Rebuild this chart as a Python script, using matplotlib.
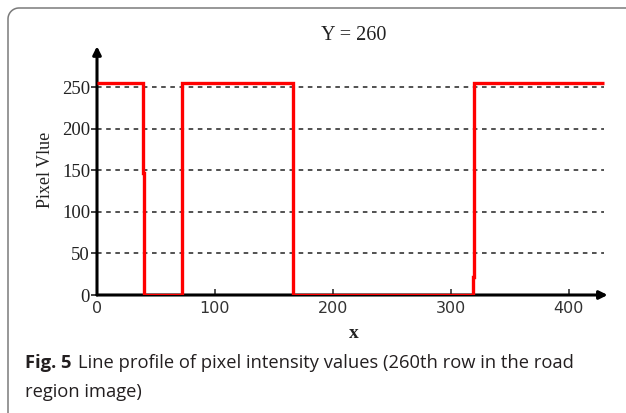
import numpy as np
import matplotlib.pyplot as plt
from matplotlib.lines import Line2D

# step profile of row 260: edges along x and the level between them
x_edges = [0, 39, 40, 72, 166, 319, 320, 430]
levels = [255, 147, 0, 255, 0, 22, 255]

grid_vals = [50, 100, 150, 200, 250]
xtick_vals = [0, 100, 200, 300, 400]
ytick_vals = [0, 50, 100, 150, 200, 250]

serif = "Liberation Serif"
cap_font = "Open Sans"

W, H = 626, 413
fig = plt.figure(figsize=(W / 100, H / 100), dpi=100)

# frame: left and top edges joined by a rounded corner (figure pixels)
r = 11
left, top = 8, H - 8
ang = np.linspace(np.pi, np.pi / 2, 20)
fx = np.concatenate([[left], left + r + r * np.cos(ang), [W + 5]])
fy = np.concatenate([[-5], top - r + r * np.sin(ang), [top]])
fig.add_artist(Line2D(fx / W, fy / H, transform=fig.transFigure,
                      color="#7a7a7a", linewidth=1.1))

ax = fig.add_axes([97 / W, (H - 295) / H, 513 / W, 249.6 / H])
ax.set_xlim(0, 435)
ax.set_ylim(0, 300)

for s in ax.spines.values():
    s.set_visible(False)

# dashed horizontal grid
ax.hlines(grid_vals, 0, 430, colors="#222222", linestyles=(0, (3, 3)), linewidth=1.1, zorder=1)

# axes with arrow heads
ax.annotate("", xy=(433, 0), xytext=(0, 0), xycoords="data",
            arrowprops=dict(arrowstyle="-|>", color="black", lw=2.2,
                            mutation_scale=12, shrinkA=0, shrinkB=0),
            annotation_clip=False, zorder=2)
ax.annotate("", xy=(0, 299), xytext=(0, 0), xycoords="data",
            arrowprops=dict(arrowstyle="-|>", color="black", lw=2.2,
                            mutation_scale=12, shrinkA=0, shrinkB=0),
            annotation_clip=False, zorder=2)

ax.stairs(levels, x_edges, baseline=None, color="red", linewidth=2.4, zorder=3)

ax.set_xticks(xtick_vals)
ax.set_xticklabels([str(v) for v in xtick_vals], fontsize=11.5, color="#333333",
                   family="DejaVu Sans")
ax.set_yticks(ytick_vals)
ax.set_yticklabels([str(v) for v in ytick_vals], fontsize=13.5, color="#222222",
                   family=serif)
ax.tick_params(axis="x", direction="in", length=4, width=1.2, pad=4, color="#333333")
ax.tick_params(axis="y", direction="out", length=4, width=1.2, pad=1, color="#222222")
ax.xaxis.get_major_ticks()[0].tick1line.set_visible(False)

ax.set_title("Y = 260", fontsize=14.5, family=serif, color="#222222", pad=0, y=1.022)
ax.set_xlabel("x", fontsize=14, family=serif, fontweight="bold", color="#222222", labelpad=7)
ax.set_ylabel("Pixel Vlue", fontsize=13, family=serif, color="#222222", labelpad=6)

# caption: bold figure number followed by the regular text
cap_y = 1 - 363 / H
t = fig.text(25 / W, cap_y, "Fig. 5", fontsize=13.2, family=cap_font,
             fontweight="bold", va="center", color="#231f20")
bb = t.get_window_extent(renderer=fig.canvas.get_renderer())
fig.text((bb.x1 + 6) / W, cap_y,
         "Line profile of pixel intensity values (260th row in the road",
         fontsize=13.2, family=cap_font, va="center", color="#231f20")
fig.text(25 / W, 1 - 392 / H, "region image)", fontsize=13.2, family=cap_font,
         va="center", color="#231f20")

fig.savefig("out.png", dpi=100)
